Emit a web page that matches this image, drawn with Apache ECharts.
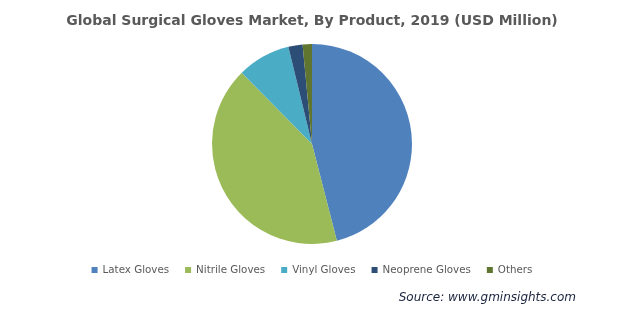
<!DOCTYPE html>
<html><head><meta charset="utf-8">
<script src="https://cdn.jsdelivr.net/npm/echarts@6/dist/echarts.min.js"></script>
<style>html,body{margin:0;padding:0;background:#fff}#c{width:624px;height:309px}</style>
</head><body><div id="c"></div>
<script>
const categories = ["Latex Gloves", "Nitrile Gloves", "Vinyl Gloves", "Neoprene Gloves", "Others"];
const values = [46.0, 41.6, 8.6, 2.3, 1.5];
const colors = ["#4F81BD", "#9BBB59", "#4BACC6", "#2C4D75", "#5F7530"];
const chart = echarts.init(document.getElementById('c'));
chart.setOption({
  animation: false,
  title: {
    text: "Global Surgical Gloves Market, By Product, 2019 (USD Million)",
    left: 'center', top: 9,
    textStyle: {fontFamily: 'DejaVu Sans', fontSize: 14, fontWeight: 'bold', color: '#595959'}
  },
  legend: {
    data: categories, top: 260, left: 'center',
    itemWidth: 6, itemHeight: 6, itemGap: 16, icon: 'rect',
    textStyle: {fontFamily: 'DejaVu Sans', fontSize: 10.3, color: '#595959'}
  },
  graphic: [{
    type: 'text', right: 48, top: 292,
    style: {text: 'Source: www.gminsights.com', font: 'italic 12px "DejaVu Sans"', fill: '#1c2540'}
  }],
  series: [{
    type: 'pie', center: [312, 144], radius: 100, startAngle: 90, clockwise: true,
    label: {show: false}, labelLine: {show: false}, silent: true,
    data: categories.map((n, i) => ({name: n, value: values[i], itemStyle: {color: colors[i]}}))
  }]
});
</script></body></html>
